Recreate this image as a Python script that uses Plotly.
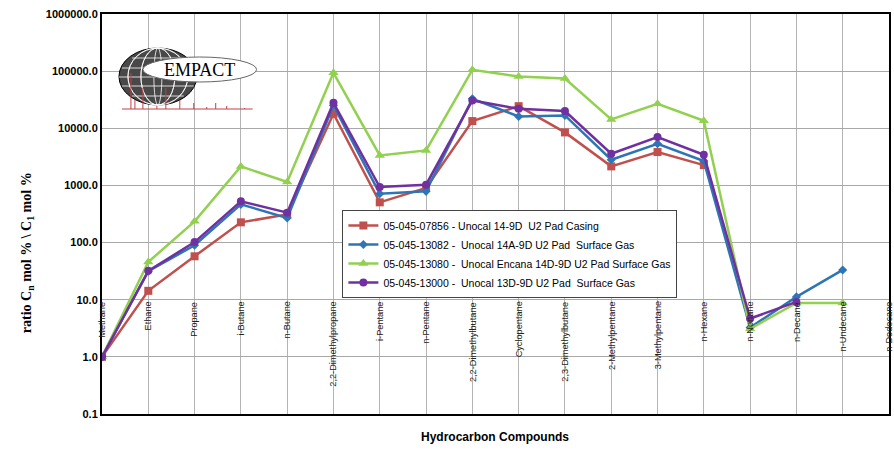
import plotly.graph_objects as go

categories = ["Methane", "Ethane", "Propane", "i-Butane", "n-Butane", "2,2-Dimethylpropane",
              "i-Pentane", "n-Pentane", "2,2-Dimethylbutane", "Cyclopentane", "2,3-Dimethylbutane",
              "2-Methylpentane", "3-Methylpentane", "n-Hexane", "n-Nonane", "n-Decane",
              "n-Undecane", "n-Dodecane"]

casing_07856 = [1.0, 14.3, 57.5, 226, 310, 17950, 506, 900, 13360, 24400, 8470, 2155, 3840, 2270,
                None, None, None, None]
surface_13082 = [1.0, 31.5, 89.6, 467, 269, 25100, 717, 787, 32800, 16100, 16800, 2820, 5370, 2670,
                 3.26, 11.2, 33.2, None]
surface_13080 = [1.0, 45.8, 235, 2155, 1146, 93500, 3356, 4103, 105500, 80700, 74500, 14290, 26840, 13540,
                 3.09, 8.8, 8.8, None]
surface_13000 = [1.0, 32.0, 102, 527, 334, 27950, 938, 1030, 30700, 21900, 20000, 3590, 7020, 3445,
                 4.68, 9.16, None, None]

series_names = ["05-045-07856 - Unocal 14-9D\u00a0 U2 Pad Casing",
                "05-045-13082 -\u00a0 Unocal 14A-9D U2 Pad\u00a0 Surface Gas",
                "05-045-13080 -\u00a0 Unocal Encana 14D-9D U2 Pad Surface Gas",
                "05-045-13000 -\u00a0 Unocal 13D-9D U2 Pad\u00a0 Surface Gas"]

y_tickvals = [0.1, 1, 10, 100, 1000, 10000, 100000, 1000000]
y_ticktext = ["0.1", "1.0", "10.0", "100.0", "1000.0", "10000.0", "100000.0", "1000000.0"]

colors = ["#C0504D", "#2E75B6", "#92D050", "#7030A0"]
symbols = ["square", "diamond", "triangle-up", "circle"]
sizes = [8, 7, 9, 8]
series = [casing_07856, surface_13082, surface_13080, surface_13000]

fig = go.Figure()
for name, vals, c, s, sz in zip(series_names, series, colors, symbols, sizes):
    fig.add_trace(go.Scatter(x=categories, y=vals, name=name, mode="lines+markers",
                             line=dict(color=c, width=2.5),
                             marker=dict(symbol=s, size=sz, color=c)))

# plot-area geometry in page pixels (body margin removed by post_script)
L, R, T, B = 102, 891, 14, 414
W, H = 894, 450
def px(x):
    return (x - L) / (R - L)
def py(y):
    return (B - y) / (B - T)

shapes = []
# Logo globe
shapes.append(dict(type="circle", xref="paper", yref="paper", x0=px(119), x1=px(197), y0=py(105), y1=py(48),
                   fillcolor="#484848", line=dict(color="black", width=1), layer="above"))
for dx in [-26, -13, 0, 13, 26]:
    shapes.append(dict(type="circle", xref="paper", yref="paper", x0=px(158 - abs(dx) - 4 if dx else 154),
                       x1=px(158 + abs(dx) + 4 if dx else 162), y0=py(105), y1=py(48),
                       fillcolor="rgba(0,0,0,0)", line=dict(color="white", width=0.8), layer="above"))
for yy, half in [(58, 26), (68, 36), (77, 39), (86, 36), (96, 26)]:
    shapes.append(dict(type="line", xref="paper", yref="paper", x0=px(158 - half), x1=px(158 + half),
                       y0=py(yy), y1=py(yy), line=dict(color="white", width=0.8), layer="above"))
# Logo ellipse
shapes.append(dict(type="circle", xref="paper", yref="paper", x0=px(143), x1=px(257), y0=py(82), y1=py(57),
                   fillcolor="white", line=dict(color="#666", width=1), layer="above"))
# red chromatogram spikes
shapes.append(dict(type="line", xref="paper", yref="paper", x0=px(122), x1=px(253), y0=py(109), y1=py(109),
                   line=dict(color="#C0404A", width=1), layer="above"))
for sx, top in [(131, 73), (135, 100), (143, 88), (157, 106), (166, 88), (180, 100), (194, 103),
                (207, 107), (216, 103), (227, 106), (245, 108)]:
    shapes.append(dict(type="line", xref="paper", yref="paper", x0=px(sx), x1=px(sx), y0=py(109), y1=py(top),
                       line=dict(color="#C0404A", width=1), layer="above"))

annotations = []
annotations.append(dict(text="EMPACT", xref="paper", yref="paper", x=px(200), y=py(70), showarrow=False,
                        font=dict(family="Liberation Serif", size=18, color="black"),
                        xanchor="center", yanchor="middle"))
for cat in categories:
    annotations.append(dict(text=cat, x=cat, y=1, xref="x", yref="y", showarrow=False, textangle=-90,
                            xanchor="center", yanchor="top", yshift=0,
                            font=dict(family="Liberation Sans", size=9.2, color="#222")))
annotations.append(dict(text="ratio C<sub>n</sub> mol % \\ C<sub>1</sub> mol %", xref="paper", yref="paper",
                        x=px(28), y=py(253), showarrow=False, textangle=-90,
                        font=dict(family="Liberation Serif", size=14, color="black", weight="bold"),
                        xanchor="center", yanchor="middle"))
annotations.append(dict(text="Hydrocarbon Compounds", xref="paper", yref="paper", x=px(496), y=py(437),
                        showarrow=False, xanchor="center", yanchor="middle",
                        font=dict(family="Liberation Sans", size=12, color="black", weight="bold")))

fig.update_layout(
    width=W, height=H,
    margin=dict(l=L, r=W - R, t=T, b=H - B, pad=0),
    paper_bgcolor="white", plot_bgcolor="white",
    showlegend=True,
    legend=dict(x=px(343), y=py(210), xanchor="left", yanchor="top",
                bgcolor="white", bordercolor="#444", borderwidth=1,
                font=dict(family="Liberation Sans", size=10.5, color="black"),
                itemwidth=30, tracegroupgap=0),
    shapes=shapes, annotations=annotations,
)
fig.update_xaxes(type="category", range=[0, 17], showticklabels=False, ticks="",
                 showgrid=True, gridcolor="#B4B4B4", gridwidth=1,
                 showline=True, linecolor="black", linewidth=2, mirror=True, zeroline=False)
fig.update_yaxes(type="log", range=[-1.0002, 6.0002], tickvals=y_tickvals, ticktext=y_ticktext,
                 tickfont=dict(family="Liberation Sans", size=11, color="black", weight="bold"),
                 ticks="", ticklen=0,
                 showgrid=True, gridcolor="#A8A8A8", gridwidth=1,
                 showline=True, linecolor="black", linewidth=2, mirror=True, zeroline=False)

fig.write_html("out.html", config={"displayModeBar": False},
               post_script="document.body.style.margin='0px';document.body.style.overflow='hidden';")
